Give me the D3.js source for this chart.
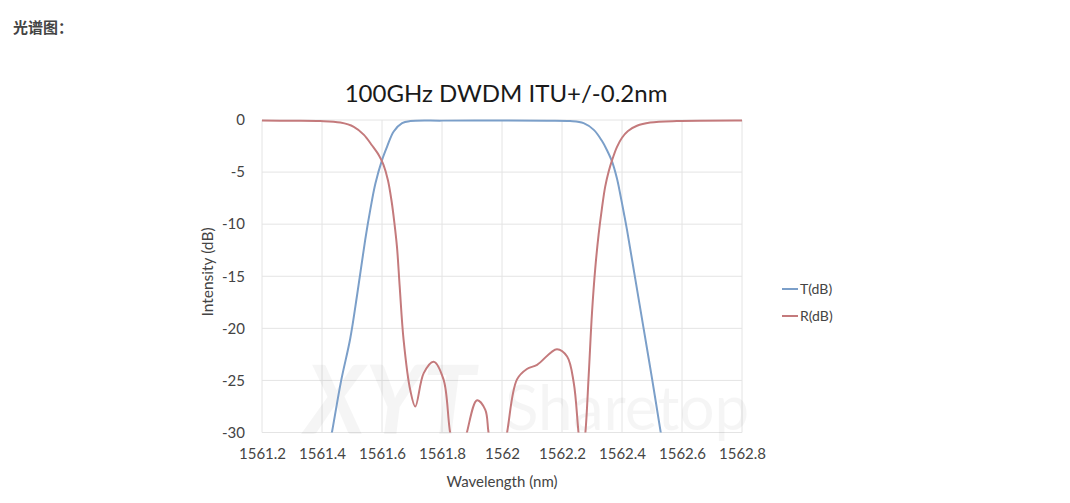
<!DOCTYPE html>
<html>
<head>
<meta charset="utf-8">
<script src="https://cdn.jsdelivr.net/npm/d3@7"></script>
<style>
  body { margin: 0; background: #fff; }
  svg { display: block; }
</style>
</head>
<body>
<script>
// wavelength ticks and dB ticks
var xTicks = [1561.2, 1561.4, 1561.6, 1561.8, 1562, 1562.2, 1562.4, 1562.6, 1562.8];
var yTicks = [0, -5, -10, -15, -20, -25, -30];

// T(dB) curve (points below -30 get clipped)
var tWl = [1561.42, 1561.433, 1561.464, 1561.494, 1561.517, 1561.544, 1561.561, 1561.578, 1561.6,
           1561.617, 1561.639, 1561.667, 1561.694, 1561.8, 1562.0, 1562.15, 1562.227, 1562.272,
           1562.306, 1562.333, 1562.35, 1562.367, 1562.383, 1562.394, 1562.406, 1562.417, 1562.441,
           1562.472, 1562.5, 1562.528, 1562.541];
var tDb = [-32, -30, -25, -21, -16.8, -11.5, -8.6, -6.1, -3.85,
           -2.55, -1.1, -0.3, -0.1, -0.06, -0.05, -0.06, -0.1, -0.3,
           -0.95, -2.0, -2.9, -4.0, -5.6, -7.1, -8.9, -10.6, -14.7,
           -20.0, -24.8, -29.8, -32];

// R(dB) curve
var rWl = [1561.2, 1561.3, 1561.394, 1561.461, 1561.506, 1561.539, 1561.567, 1561.59, 1561.605,
           1561.62, 1561.632, 1561.641, 1561.65, 1561.659, 1561.672, 1561.694, 1561.711, 1561.739,
           1561.772, 1561.805, 1561.827, 1561.855, 1561.883, 1561.917, 1561.944, 1561.955, 1561.985,
           1562.017, 1562.05, 1562.083, 1562.117, 1562.183, 1562.217, 1562.239, 1562.255, 1562.266,
           1562.278, 1562.289, 1562.3, 1562.311, 1562.322, 1562.333, 1562.344, 1562.356, 1562.367,
           1562.383, 1562.4, 1562.42, 1562.45, 1562.494, 1562.583, 1562.8];
var rDb = [-0.05, -0.07, -0.1, -0.25, -0.65, -1.4, -2.45, -3.4, -4.3,
           -5.8, -7.8, -9.8, -12.2, -16.0, -21.1, -25.9, -27.5, -24.3,
           -23.2, -24.9, -30, -34, -30, -26.9, -27.8, -30, -36,
           -30, -24.9, -23.9, -23.5, -22.0, -22.7, -25.2, -30, -33,
           -30, -24.5, -18.5, -14.2, -11.0, -8.5, -6.4, -4.9, -3.85,
           -2.6, -1.7, -1.05, -0.55, -0.25, -0.1, -0.05];

var seriesNames = ['T(dB)', 'R(dB)'];
var colors = ['#7b9fc9', '#c47a7c'];

var W = 1070, H = 503;
var pL = 262, pR = 742, pT = 120, pB = 432.5;

var svg = d3.select('body').append('svg')
    .attr('width', W)
    .attr('height', H);

svg.append('text')
    .attr('x', 13).attr('y', 33)
    .attr('font-family', '"Noto Sans CJK SC", sans-serif')
    .attr('font-size', 15)
    .attr('font-weight', 'bold')
    .attr('fill', '#444')
    .text('光谱图：');

var x = d3.scaleLinear().domain([1561.2, 1562.8]).range([pL, pR]);
var y = d3.scaleLinear().domain([-30, 0]).range([pB, pT]);

// grid
svg.append('g').selectAll('line').data(xTicks).enter().append('line')
    .attr('x1', function(d) { return x(d); })
    .attr('x2', function(d) { return x(d); })
    .attr('y1', pT).attr('y2', pB)
    .attr('stroke', '#e4e4e4')
    .attr('stroke-width', 1);

svg.append('g').selectAll('line').data(yTicks).enter().append('line')
    .attr('x1', pL).attr('x2', pR)
    .attr('y1', function(d) { return y(d); })
    .attr('y2', function(d) { return y(d); })
    .attr('stroke', '#e4e4e4')
    .attr('stroke-width', 1);

// faint watermark
svg.append('text')
    .attr('x', 305).attr('y', 434)
    .attr('font-family', 'Lato, sans-serif')
    .attr('font-size', 95)
    .attr('font-weight', 'bold')
    .attr('font-style', 'italic')
    .attr('fill', '#000').attr('fill-opacity', 0.04)
    .text('XYT');
svg.append('text')
    .attr('x', 505).attr('y', 430)
    .attr('font-family', 'Lato, sans-serif')
    .attr('font-size', 62)
    .attr('fill', '#000').attr('fill-opacity', 0.04)
    .text('Sharetop');

// axes (labels only, no domain lines)
var xAxis = svg.append('g')
    .attr('transform', 'translate(0,' + pB + ')')
    .call(d3.axisBottom(x).tickValues(xTicks).tickSize(0).tickPadding(16)
        .tickFormat(function(d) { return String(+d.toFixed(1)); }));
var yAxis = svg.append('g')
    .attr('transform', 'translate(' + pL + ',0)')
    .call(d3.axisLeft(y).tickValues(yTicks).tickSize(0).tickPadding(17)
        .tickFormat(function(d) { return String(d); }));

[xAxis, yAxis].forEach(function(a) {
    a.select('.domain').remove();
    a.selectAll('text')
        .attr('font-family', 'Lato, sans-serif')
        .attr('font-size', 15)
        .attr('fill', '#444');
});

svg.append('text')
    .attr('x', (pL + pR) / 2).attr('y', 487)
    .attr('text-anchor', 'middle')
    .attr('font-family', 'Lato, sans-serif')
    .attr('font-size', 15)
    .attr('fill', '#444')
    .text('Wavelength (nm)');

svg.append('text')
    .attr('transform', 'translate(213,272) rotate(-90)')
    .attr('text-anchor', 'middle')
    .attr('font-family', 'Lato, sans-serif')
    .attr('font-size', 15.5)
    .attr('fill', '#444')
    .text('Intensity (dB)');

svg.append('text')
    .attr('x', 506).attr('y', 102)
    .attr('text-anchor', 'middle')
    .attr('font-family', 'Lato, sans-serif')
    .attr('font-size', 24)
    .attr('fill', '#1a1a1a')
    .text('100GHz DWDM ITU+/-0.2nm');

// curves
svg.append('clipPath').attr('id', 'plot')
    .append('rect')
    .attr('x', pL).attr('y', pT - 5)
    .attr('width', pR - pL).attr('height', pB - pT + 5);

var line = d3.line()
    .x(function(d) { return x(d[0]); })
    .y(function(d) { return y(d[1]); })
    .curve(d3.curveCatmullRom.alpha(0.5));

var series = [d3.zip(tWl, tDb), d3.zip(rWl, rDb)];

svg.append('g').attr('clip-path', 'url(#plot)')
    .selectAll('path').data(series).enter().append('path')
    .attr('d', line)
    .attr('fill', 'none')
    .attr('stroke', function(d, i) { return colors[i]; })
    .attr('stroke-width', 2);

// legend
var legend = svg.append('g').selectAll('g').data(seriesNames).enter().append('g')
    .attr('transform', function(d, i) { return 'translate(782,' + (289 + i * 27) + ')'; });
legend.append('line')
    .attr('x1', 0).attr('x2', 16)
    .attr('stroke', function(d, i) { return colors[i]; })
    .attr('stroke-width', 2);
legend.append('text')
    .attr('x', 18).attr('y', 5)
    .attr('font-family', 'Lato, sans-serif')
    .attr('font-size', 14)
    .attr('fill', '#444')
    .text(function(d) { return d; });
</script>
</body>
</html>
